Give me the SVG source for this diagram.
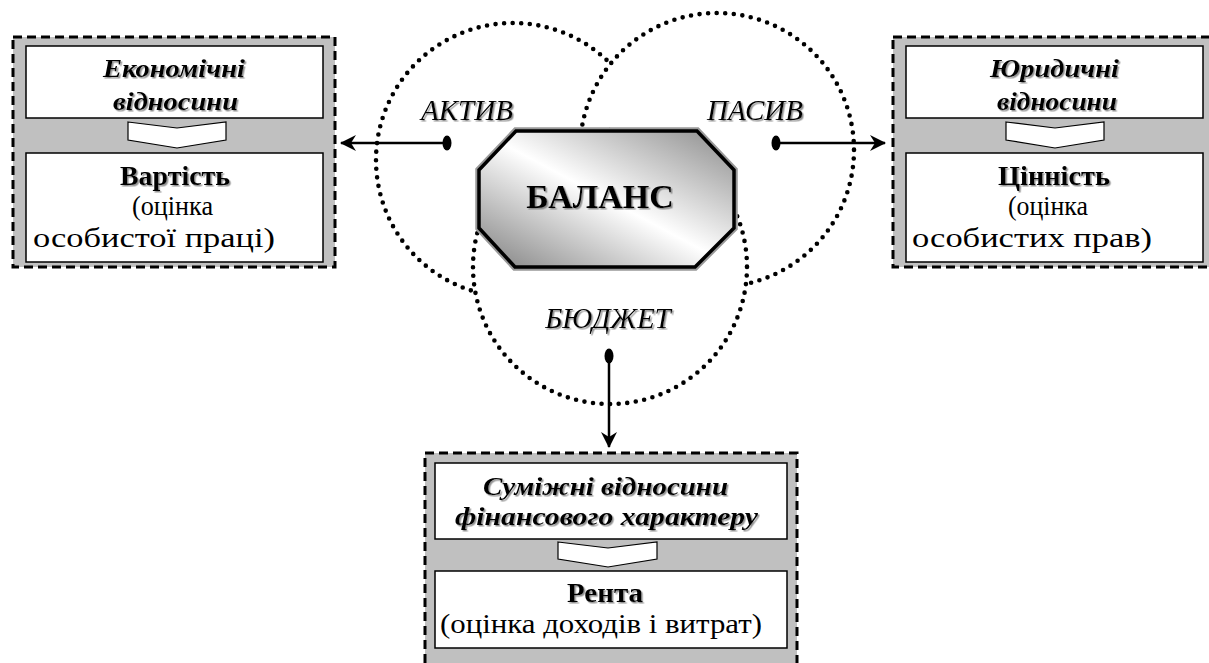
<svg xmlns="http://www.w3.org/2000/svg" width="1209" height="663" viewBox="0 0 1209 663">
<style>
.outer{fill:#c0c0c0;stroke:#000;stroke-width:3;stroke-dasharray:9 5}
.inner{fill:#fff;stroke:#000;stroke-width:1.5}
.chev{fill:#fff;stroke:#000;stroke-width:1.2}
.circ{fill:#fff;stroke:#000;stroke-width:4.6;stroke-dasharray:0 8.6;stroke-linecap:round}
.t{font-family:"Liberation Serif","Times New Roman",serif;text-anchor:middle;fill:#000}
.hd{font-size:25px;font-style:italic;font-weight:bold}
.ttl{font-size:27px;font-weight:bold}
.rg{font-size:28px}
.rs{font-size:26.5px}
.lbl{font-size:29px;font-style:italic}
.sh{filter:url(#shadow)}
.conn{stroke:#000;stroke-width:2.5;fill:none}
</style>
<defs>
<filter id="shadow" x="-10%" y="-20%" width="120%" height="150%">
<feDropShadow dx="1.5" dy="1.5" stdDeviation="0.7" flood-color="#777" flood-opacity="0.8"/>
</filter>
<linearGradient id="octg" x1="0" y1="1" x2="1" y2="0">
<stop offset="0" stop-color="#808080"/>
<stop offset="0.5" stop-color="#ffffff"/>
<stop offset="1" stop-color="#8a8a8a"/>
</linearGradient>
<marker id="arr" viewBox="0 0 16 16" refX="15" refY="8" markerWidth="16" markerHeight="16" markerUnits="userSpaceOnUse" orient="auto">
<path d="M0,0 L16,8 L0,16 L5,8 Z" fill="#000"/>
</marker>
</defs>

<g id="circles">
<circle class="circ" cx="513" cy="160" r="137"/>
<circle class="circ" cx="717" cy="150" r="137"/>
<circle class="circ" cx="610" cy="267" r="137"/>
</g>

<g id="balance">
<polygon points="516,131 697,131 734,170 734,228 695,267 515,267 479,228 479,170" fill="#fff" stroke="#999" stroke-width="7.5" stroke-linejoin="miter"/>
<polygon points="516,131 697,131 734,170 734,228 695,267 515,267 479,228 479,170" fill="url(#octg)" stroke="#000" stroke-width="3.5"/>
<text class="t sh" x="600" y="208" font-size="34" font-weight="bold">БАЛАНС</text>
</g>

<g id="labels">
<text class="t lbl sh" x="467" y="120">АКТИВ</text>
<text class="t lbl sh" x="755" y="120">ПАСИВ</text>
<text class="t lbl sh" x="608" y="328">БЮДЖЕТ</text>
</g>

<g id="connectors">
<ellipse cx="447" cy="143" rx="4.5" ry="7.5" fill="#000"/>
<line class="conn" x1="447" y1="143" x2="341" y2="143" marker-end="url(#arr)"/>
<ellipse cx="776" cy="143" rx="4.5" ry="7.5" fill="#000"/>
<line class="conn" x1="776" y1="143" x2="885" y2="143" marker-end="url(#arr)"/>
<ellipse cx="609" cy="356" rx="4.5" ry="7.5" fill="#000"/>
<line class="conn" x1="609" y1="356" x2="609" y2="447" marker-end="url(#arr)"/>
</g>

<g id="econ">
<rect class="outer" x="13" y="37" width="322" height="230"/>
<rect class="inner" x="26" y="46" width="297" height="72"/>
<polygon class="chev" points="128,122 177,128 226,122 226,140 177,148 128,140"/>
<rect class="inner" x="26" y="153" width="297" height="109"/>
<text class="t hd sh" x="174" y="77" textLength="142" lengthAdjust="spacingAndGlyphs">Економічні</text>
<text class="t hd sh" x="175.5" y="110" textLength="125" lengthAdjust="spacingAndGlyphs">відносини</text>
<text class="t ttl sh" x="175" y="185" textLength="110" lengthAdjust="spacingAndGlyphs">Вартість</text>
<text class="t rs" x="172.5" y="215" textLength="81" lengthAdjust="spacingAndGlyphs">(оцінка</text>
<text class="t rg" x="154" y="247" textLength="242" lengthAdjust="spacingAndGlyphs">особистої праці)</text>
</g>

<g id="legal">
<rect class="outer" x="893" y="37" width="322" height="230"/>
<rect class="inner" x="906" y="46" width="297" height="72"/>
<polygon class="chev" points="1006,122 1055,128 1104,122 1104,140 1055,148 1006,140"/>
<rect class="inner" x="906" y="153" width="297" height="109"/>
<text class="t hd sh" x="1054.5" y="77" textLength="129" lengthAdjust="spacingAndGlyphs">Юридичні</text>
<text class="t hd sh" x="1057" y="110" textLength="120" lengthAdjust="spacingAndGlyphs">відносини</text>
<text class="t ttl sh" x="1054" y="185" textLength="112" lengthAdjust="spacingAndGlyphs">Цінність</text>
<text class="t rs" x="1048" y="215" textLength="80" lengthAdjust="spacingAndGlyphs">(оцінка</text>
<text class="t rg" x="1032" y="247" textLength="240" lengthAdjust="spacingAndGlyphs">особистих прав)</text>
</g>

<g id="related">
<rect class="outer" x="425" y="453" width="372" height="230"/>
<rect class="inner" x="435" y="463" width="352" height="76"/>
<polygon class="chev" points="558,542 608,548 657,542 657,559 608,567 558,559"/>
<rect class="inner" x="435" y="571" width="352" height="77"/>
<text class="t hd sh" x="605.5" y="495" textLength="245" lengthAdjust="spacingAndGlyphs">Суміжні відносини</text>
<text class="t hd sh" x="606.5" y="525" textLength="303" lengthAdjust="spacingAndGlyphs">фінансового характеру</text>
<text class="t ttl sh" x="605" y="602" textLength="76" lengthAdjust="spacingAndGlyphs">Рента</text>
<text class="t rg" x="601" y="633" textLength="322" lengthAdjust="spacingAndGlyphs">(оцінка доходів і витрат)</text>
</g>
</svg>
